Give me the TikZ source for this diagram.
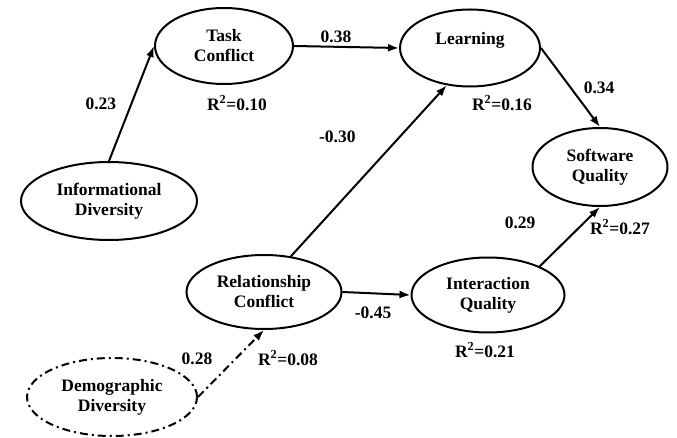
\documentclass[tikz,border=0pt]{standalone}
\usepackage{fontspec}
\setmainfont{Liberation Serif}
\usepackage{tikz}
\usetikzlibrary{arrows.meta}
\usetikzlibrary{positioning}
\usetikzlibrary{shapes.geometric}
\tikzset{>={Latex[length=11pt,width=8pt]}}
\tikzset{latent/.style = {ellipse, draw, line width=2pt, inner sep=0pt, align=center, font=\fontsize{17.5}{20}\selectfont\bfseries}}
\tikzset{coef/.style = {draw=none, font=\fontsize{17.5}{20}\selectfont\bfseries}}
\tikzset{path/.style = {->, line width=2pt}}
\tikzset{dashdot/.style = {->, line width=2pt, dash pattern=on 8pt off 4pt on 2pt off 4pt}}

\begin{document}
\begin{tikzpicture}[x=1pt, y=-1pt]
\useasboundingbox (0,0) rectangle (677,438);
\node [latent, minimum width=138pt, minimum height=76pt] (TC) at (224, 46) {Task\\Conflict};
\node [latent, minimum width=140pt, minimum height=77pt] (LE) at (470, 48) {Learning\\\mbox{}};
\node [latent, minimum width=135pt, minimum height=78pt] (SQ) at (600, 167) {Software\\Quality};
\node [latent, minimum width=176pt, minimum height=78pt] (ID) at (109, 201) {Informational\\Diversity};
\node [latent, minimum width=155pt, minimum height=74pt] (RC) at (264, 292) {Relationship\\Conflict};
\node [latent, minimum width=153pt, minimum height=75pt] (IQ) at (488, 295) {Interaction\\Quality};
\node [latent, minimum width=170pt, minimum height=80pt, draw=none] (DD) at (112, 397) {Demographic\\Diversity};
\draw [dashdot, -] (DD.center) ellipse [x radius=85pt, y radius=39pt];
% R-squared values
\node [coef] (rTC) at (237, 103) {R\textsuperscript{2}=0.10};
\node [coef] (rLE) at (502, 103) {R\textsuperscript{2}=0.16};
\node [coef] (rSQ) at (620, 227) {R\textsuperscript{2}=0.27};
\node [coef] (rIQ) at (485, 350) {R\textsuperscript{2}=0.21};
\node [coef] (rRC) at (288, 358) {R\textsuperscript{2}=0.08};
% paths
\draw [path] (ID.north) to node[coef, pos=0.5, left=11pt]{0.23} (TC.west);
\draw [path] (TC.east) to node[coef, pos=0.4, above]{0.38} (LE.west);
\draw [path] (RC.53) to node[coef, pos=0.7, left=40pt]{-0.30} (LE.238);
\draw [path] (LE.east) to node[coef, pos=0.5, right=9pt]{0.34} (SQ.north);
\draw [path] (IQ.29) to node[coef, pos=0.73, left=44pt]{0.29} (SQ.south);
\draw [path] (RC.east) to node[coef, pos=0.45, below=9pt]{-0.45} (IQ.west);
\draw [dashdot] (DD.east) to node[coef, pos=0.57, left=19pt]{0.28} (RC.south);
\end{tikzpicture}
\end{document}
